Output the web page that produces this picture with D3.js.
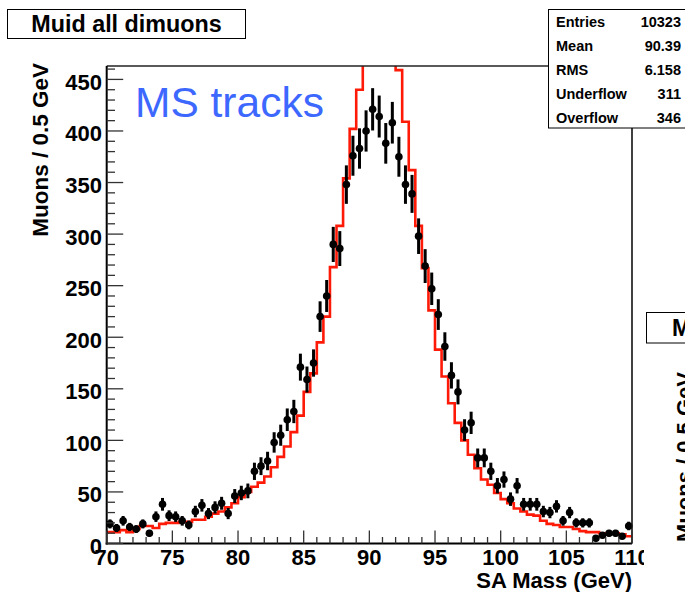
<!DOCTYPE html>
<html>
<head>
    <meta charset="utf-8">
    <script src="https://d3js.org/d3.v7.min.js"></script>
    <style>
        html, body {
            margin: 0;
            padding: 0;
            overflow: hidden;
            background: #fff;
        }
        text {
            font-family: "Liberation Sans", Arial, Helvetica, sans-serif;
        }
    </style>
</head>
<body>

<svg id="chart" width="685" height="592"></svg>

<script>
// histogram definition: 80 bins of 0.5 GeV from 70 to 110
var binStart = 70;
var binWidth = 0.5;

// data counts per bin (black points)
var dataCounts = [
    19, 15, 22, 16, 14, 19, 10, 26, 38, 27,
    26, 22, 18, 31, 37, 29, 35, 39, 29, 46,
    49, 51, 70, 75, 80, 98, 105, 120, 128, 171,
    159, 175, 220, 240, 290, 286, 348, 376, 383, 400,
    421, 414, 388, 408, 375, 348, 339, 298, 269, 247,
    222, 191, 163, 147, 110, 117, 83, 83, 70, 56,
    62, 43, 56, 38, 38, 38, 31, 30, 36, 22,
    30, 20, 20, 20, 5, 8, 10, 10, 7, 17
];

// simulation counts per bin (red outline)
var mcCounts = [
    11, 11, 13, 11, 14, 17, 17, 15, 19, 20,
    20, 21, 21, 23, 23, 26, 29, 31, 35, 39,
    45, 50, 55, 59, 65, 74, 84, 94, 108, 124,
    147, 165, 195, 220, 268, 308, 354, 402, 440, 480,
    500, 510, 505, 485, 459, 409, 362, 308, 267, 226,
    188, 162, 136, 117, 100, 86, 73, 62, 57, 49,
    43, 39, 34, 31, 28, 27, 22, 19, 18, 16,
    16, 14, 12, 11, 11, 10, 10, 10, 9, 7
];

var xTicks = [70, 75, 80, 85, 90, 95, 100, 105, 110];
var yTicks = [0, 50, 100, 150, 200, 250, 300, 350, 400, 450];

var statNames = ["Entries", "Mean", "RMS", "Underflow", "Overflow"];
var statValues = ["10323", "90.39", "6.158", "311", "346"];

var svg = d3.select("#chart");

var frame = {left: 106.7, right: 632, top: 66, bottom: 543.5};

var x = d3.scaleLinear().domain([70, 110]).range([frame.left, frame.right]);
var y = d3.scaleLinear().domain([0, 463]).range([frame.bottom, frame.top]);

var defs = svg.append("defs");
defs.append("clipPath").attr("id", "frameClip")
    .append("rect")
    .attr("x", frame.left).attr("y", frame.top)
    .attr("width", frame.right - frame.left)
    .attr("height", frame.bottom - frame.top);
defs.append("clipPath").attr("id", "padClip")
    .append("rect")
    .attr("x", 0).attr("y", 0)
    .attr("width", 644).attr("height", 592);

var pad = svg.append("g").attr("clip-path", "url(#padClip)");

// simulation outline
var steps = mcCounts.map(function(v, i) {
    return [binStart + i * binWidth, v];
});
steps.push([binStart + mcCounts.length * binWidth, mcCounts[mcCounts.length - 1]]);

var stepLine = d3.line()
    .x(function(d) { return x(d[0]); })
    .y(function(d) { return y(d[1]); })
    .curve(d3.curveStepAfter);

var plot = pad.append("g").attr("clip-path", "url(#frameClip)");

plot.append("path")
    .datum(steps)
    .attr("d", stepLine)
    .attr("fill", "none")
    .attr("stroke", "#ff1a08")
    .attr("stroke-width", 2.6);

// data points with sqrt(N) errors
var points = dataCounts.map(function(v, i) {
    return {m: binStart + (i + 0.5) * binWidth, n: v};
});

var pts = pad.append("g").attr("class", "points");

pts.selectAll("line")
    .data(points)
    .enter().append("line")
    .attr("x1", function(d) { return x(d.m); })
    .attr("x2", function(d) { return x(d.m); })
    .attr("y1", function(d) { return y(d.n - Math.sqrt(d.n)); })
    .attr("y2", function(d) { return y(d.n + Math.sqrt(d.n)); })
    .attr("stroke", "#000")
    .attr("stroke-width", 3);

pts.selectAll("circle")
    .data(points)
    .enter().append("circle")
    .attr("cx", function(d) { return x(d.m); })
    .attr("cy", function(d) { return y(d.n); })
    .attr("r", 3.8)
    .attr("fill", "#000");

// frame
pad.append("line")
    .attr("x1", frame.left).attr("x2", frame.right)
    .attr("y1", frame.top).attr("y2", frame.top)
    .attr("stroke", "#222").attr("stroke-width", 1.5);
pad.append("line")
    .attr("x1", frame.right).attr("x2", frame.right)
    .attr("y1", frame.top).attr("y2", frame.bottom)
    .attr("stroke", "#111").attr("stroke-width", 1.6);
pad.append("line")
    .attr("x1", frame.left).attr("x2", frame.left)
    .attr("y1", frame.top).attr("y2", frame.bottom + 1)
    .attr("stroke", "#000").attr("stroke-width", 2);
pad.append("line")
    .attr("x1", frame.left - 1).attr("x2", frame.right)
    .attr("y1", frame.bottom).attr("y2", frame.bottom)
    .attr("stroke", "#000").attr("stroke-width", 2);

// y ticks (inside)
var yMinor = d3.range(0, 461, 10);
pad.append("g").selectAll("line")
    .data(yMinor)
    .enter().append("line")
    .attr("x1", frame.left)
    .attr("x2", function(d) { return frame.left + (d % 50 === 0 ? 16.5 : 8.3); })
    .attr("y1", function(d) { return y(d); })
    .attr("y2", function(d) { return y(d); })
    .attr("stroke", "#333")
    .attr("stroke-width", 1.3);

pad.append("g").selectAll("text")
    .data(yTicks)
    .enter().append("text")
    .attr("x", 102)
    .attr("y", function(d) { return y(d) + 10.5; })
    .attr("text-anchor", "end")
    .attr("font-size", "22px")
    .attr("font-weight", "bold")
    .text(function(d) { return d; });

// x ticks (inside)
var xMinor = d3.range(70, 111, 1);
pad.append("g").selectAll("line")
    .data(xMinor)
    .enter().append("line")
    .attr("x1", function(d) { return x(d); })
    .attr("x2", function(d) { return x(d); })
    .attr("y1", frame.bottom)
    .attr("y2", function(d) { return frame.bottom - (d % 5 === 0 ? 13 : 6.5); })
    .attr("stroke", "#333")
    .attr("stroke-width", 1.3);

pad.append("g").selectAll("text")
    .data(xTicks)
    .enter().append("text")
    .attr("x", function(d) { return x(d); })
    .attr("y", frame.bottom + 21.5)
    .attr("text-anchor", "middle")
    .attr("font-size", "22px")
    .attr("font-weight", "bold")
    .text(function(d) { return d; });

// axis titles
pad.append("text")
    .attr("x", frame.right)
    .attr("y", 588)
    .attr("text-anchor", "end")
    .attr("font-size", "22px")
    .attr("font-weight", "bold")
    .text("SA Mass (GeV)");

pad.append("text")
    .attr("transform", "translate(48,63) rotate(-90)")
    .attr("text-anchor", "end")
    .attr("font-size", "22.5px")
    .attr("font-weight", "bold")
    .text("Muons / 0.5 GeV");

pad.append("text")
    .attr("x", 135)
    .attr("y", 117)
    .attr("font-size", "42.5px")
    .attr("fill", "#3d68ff")
    .text("MS tracks");

// title box
svg.append("rect")
    .attr("x", 7.5).attr("y", 9.5)
    .attr("width", 238).attr("height", 29)
    .attr("fill", "#fff")
    .attr("stroke", "#000");
svg.append("text")
    .attr("x", 126.5)
    .attr("y", 32)
    .attr("text-anchor", "middle")
    .attr("font-size", "23.3px")
    .attr("font-weight", "bold")
    .text("Muid all dimuons");

// stats box
svg.append("rect")
    .attr("x", 548.5).attr("y", 9.5)
    .attr("width", 150).attr("height", 118.5)
    .attr("fill", "#fff")
    .attr("stroke", "#000");

var stats = svg.append("g").selectAll("g")
    .data(statNames)
    .enter().append("g");
stats.append("text")
    .attr("x", 556)
    .attr("y", function(d, i) { return 26.5 + i * 24; })
    .attr("font-size", "14.5px")
    .attr("font-weight", "bold")
    .text(function(d) { return d; });
stats.append("text")
    .attr("x", 681)
    .attr("y", function(d, i) { return 26.5 + i * 24; })
    .attr("text-anchor", "end")
    .attr("font-size", "14.5px")
    .attr("font-weight", "bold")
    .text(function(d, i) { return statValues[i]; });

// neighbouring pad (cut off at the right edge)
svg.append("rect")
    .attr("x", 646.5).attr("y", 312.5)
    .attr("width", 60).attr("height", 30.5)
    .attr("fill", "#fff")
    .attr("stroke", "#000");
svg.append("text")
    .attr("x", 672)
    .attr("y", 336)
    .attr("font-size", "23px")
    .attr("font-weight", "bold")
    .text("Muid all dimuons");
svg.append("text")
    .attr("transform", "translate(692,372) rotate(-90)")
    .attr("text-anchor", "end")
    .attr("font-size", "22px")
    .attr("font-weight", "bold")
    .text("Muons / 0.5 GeV");
</script>
</body>
</html>
